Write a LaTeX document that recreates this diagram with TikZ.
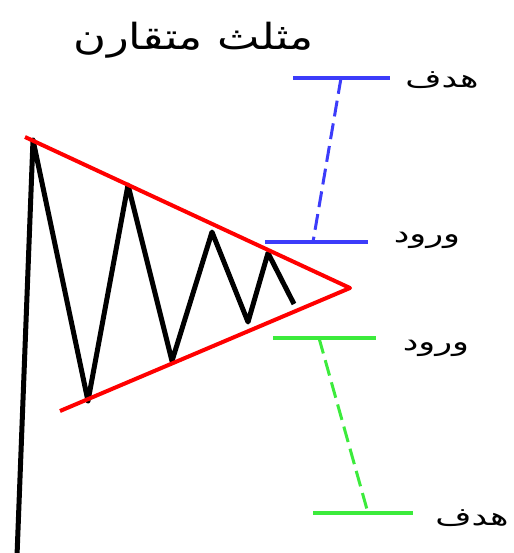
\documentclass[tikz,border=0pt]{standalone}
\usepackage{fontspec}
\TeXXeTstate=1
\newfontfamily\arabicfont[Script=Arabic]{DejaVu Sans}
\definecolor{myblue}{RGB}{60,60,250}
\definecolor{mygreen}{RGB}{60,235,60}
\begin{document}
\begin{tikzpicture}[x=1pt,y=-1pt,
  zig/.style={line width=5pt,black,line join=round},
  trend/.style={line width=4pt,red,line join=round},
  bar/.style={line width=4pt},
  dash line/.style={line width=3pt,dash pattern=on 16pt off 7pt},
  lbl/.style={font=\arabicfont\fontsize{25}{28}\selectfont,inner sep=0pt,xscale=1.4},
  ttl/.style={font=\arabicfont\fontsize{36}{40}\selectfont,inner sep=0pt,xscale=1.25}]
\useasboundingbox (0,0) rectangle (513,553);
% zigzag points
\coordinate (b0) at (17,556);
\coordinate (p1) at (33,140);
\coordinate (p2) at (88,401);
\coordinate (p3) at (128,185);
\coordinate (p4) at (172,361);
\coordinate (p5) at (212,232);
\coordinate (p6) at (248,322);
\coordinate (p7) at (268,253);
\coordinate (p8) at (294,304);
% triangle
\coordinate (u0) at (25,137);
\coordinate (apex) at (350,288);
\coordinate (l0) at (60,411);
% blue
\coordinate (bt1) at (293,78);
\coordinate (bt2) at (390,78);
\coordinate (btm) at (341,78);
\coordinate (be1) at (265,242);
\coordinate (be2) at (368,242);
\coordinate (bem) at (313,242);
% green
\coordinate (ge1) at (273,338);
\coordinate (ge2) at (376,338);
\coordinate (gem) at (319,338);
\coordinate (gt1) at (313,513);
\coordinate (gt2) at (413,513);
\coordinate (gtm) at (368,513);

\draw[zig] (b0) -- (p1) -- (p2) -- (p3) -- (p4) -- (p5) -- (p6) -- (p7) -- (p8);
\draw[trend] (u0) -- (apex) -- (l0);

\draw[bar,myblue] (bt1) -- (bt2);
\draw[bar,myblue] (be1) -- (be2);
\draw[dash line,myblue] (btm) -- (bem);

\draw[bar,mygreen] (ge1) -- (ge2);
\draw[bar,mygreen] (gt1) -- (gt2);
\draw[dash line,mygreen] (gem) -- (gtm);

\node[ttl] (title) at (194,40) {\beginR مثلث متقارن\endR};
\node[lbl] (t1) at (442,80) {\beginR هدف\endR};
\node[lbl] (e1) at (427,240) {\beginR ورود\endR};
\node[lbl] (e2) at (436,348) {\beginR ورود\endR};
\node[lbl] (t2) at (472,518) {\beginR هدف\endR};
\end{tikzpicture}
\end{document}
